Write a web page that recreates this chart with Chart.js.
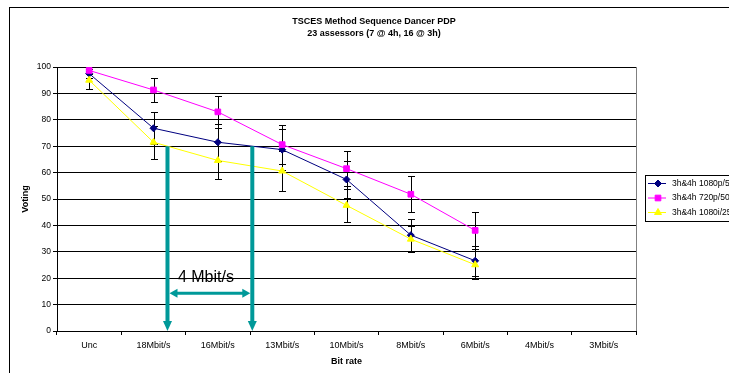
<!DOCTYPE html>
<html>
<head>
<meta charset="utf-8">
<script src="https://cdn.jsdelivr.net/npm/chart.js@4"></script>
<style>
  html, body { margin: 0; padding: 0; background: #fff; }
  canvas { display: block; }
</style>
</head>
<body>
<canvas id="chart" width="729" height="373"></canvas>
<script>
// Bit-rate steps tested
const categories = ['Unc', '18Mbit/s', '16Mbit/s', '13Mbit/s', '10Mbit/s', '8Mbit/s', '6Mbit/s', '4Mbit/s', '3Mbit/s'];
const seriesNames = ['3h&4h 1080p/50', '3h&4h 720p/50', '3h&4h 1080i/25'];

// Mean votes and 95% confidence half-widths per format
const p1080Means = [97.5, 76.8, 71.5, 68.7, 57.4, 36.3, 26.6];
const p1080Ci    = [1.8, 6.0, 7.0, 7.7, 7.0, 6.0, 5.7];
const p720Means  = [98.7, 91.3, 83.0, 70.6, 61.5, 51.8, 38.1];
const p720Ci     = [1.2, 4.7, 6.0, 7.3, 6.7, 6.8, 7.1];
const i1080Means = [95.0, 71.5, 64.6, 60.6, 47.6, 34.8, 25.1];
const i1080Ci    = [3.5, 6.2, 7.0, 7.4, 6.3, 5.0, 5.3];

const titleLines = ['TSCES Method Sequence Dancer PDP', '23 assessors (7 @ 4h, 16 @ 3h)'];
const thresholdScore = 70;       // quality level compared across formats
const savingLabel = '4 Mbit/s';  // bit-rate gap at that level

const FONT = "'Liberation Sans', Arial, sans-serif";
const TEAL = '#009999';

// Fractional category index where a series first crosses a level
function crossingIndex(values, level) {
  for (let i = 0; i < values.length - 1; i++) {
    const a = values[i], b = values[i + 1];
    if (a !== b && (a - level) * (b - level) <= 0) return i + (a - level) / (a - b);
  }
  return null;
}

const errorBars = {
  id: 'errorBars',
  beforeDatasetsDraw(chart) {
    const { ctx, scales: { x, y } } = chart;
    ctx.save();
    ctx.strokeStyle = '#000';
    ctx.lineWidth = 1;
    chart.data.datasets.forEach(ds => {
      ds.data.forEach((v, i) => {
        if (v == null) return;
        const e = ds.ci[i];
        const px = Math.round(x.getPixelForValue(i)) + 0.5;
        const top = Math.round(y.getPixelForValue(v + e)) + 0.5;
        const bot = Math.round(y.getPixelForValue(v - e)) + 0.5;
        ctx.beginPath();
        ctx.moveTo(px, top); ctx.lineTo(px, bot);
        ctx.moveTo(px - 3.5, top); ctx.lineTo(px + 3.5, top);
        ctx.moveTo(px - 3.5, bot); ctx.lineTo(px + 3.5, bot);
        ctx.stroke();
      });
    });
    ctx.restore();
  }
};

const decorations = {
  id: 'decorations',
  beforeDraw(chart) {
    const { ctx } = chart;
    ctx.save();
    ctx.fillStyle = '#fff';
    ctx.fillRect(0, 0, chart.width, chart.height);
    ctx.strokeStyle = '#000';
    ctx.lineWidth = 1;
    ctx.strokeRect(9.5, 7.5, 800, 420);
    // titles
    ctx.fillStyle = '#000';
    ctx.font = 'bold 9px ' + FONT;
    ctx.textAlign = 'center';
    ctx.textBaseline = 'middle';
    ctx.fillText(titleLines[0], 374, 22);
    ctx.fillText(titleLines[1], 374, 34);
    ctx.restore();
  },
  afterDraw(chart) {
    const { ctx, chartArea: a, scales: { x, y } } = chart;
    ctx.save();
    // right plot border
    ctx.strokeStyle = '#808080';
    ctx.lineWidth = 1;
    ctx.beginPath();
    ctx.moveTo(Math.round(a.right) + 0.5, a.top);
    ctx.lineTo(Math.round(a.right) + 0.5, a.bottom);
    ctx.stroke();

    // threshold arrows
    const xa = x.getPixelForValue(crossingIndex(i1080Means, thresholdScore));
    const xb = x.getPixelForValue(crossingIndex(p1080Means, thresholdScore));
    const yTop = y.getPixelForValue(thresholdScore);
    const yBase = y.getPixelForValue(0);
    ctx.strokeStyle = TEAL;
    ctx.fillStyle = TEAL;
    [xa, xb].forEach(px => {
      ctx.lineWidth = 4;
      ctx.beginPath();
      ctx.moveTo(px, yTop);
      ctx.lineTo(px, yBase - 9);
      ctx.stroke();
      ctx.beginPath();
      ctx.moveTo(px - 4.5, yBase - 10);
      ctx.lineTo(px + 4.5, yBase - 10);
      ctx.lineTo(px, yBase);
      ctx.closePath();
      ctx.fill();
    });
    const yh = y.getPixelForValue(14.3);
    const l = xa + 2, r = xb - 2;
    ctx.lineWidth = 3;
    ctx.beginPath();
    ctx.moveTo(l + 7, yh);
    ctx.lineTo(r - 7, yh);
    ctx.stroke();
    ctx.beginPath();
    ctx.moveTo(l, yh); ctx.lineTo(l + 8, yh - 4.5); ctx.lineTo(l + 8, yh + 4.5); ctx.closePath();
    ctx.moveTo(r, yh); ctx.lineTo(r - 8, yh - 4.5); ctx.lineTo(r - 8, yh + 4.5); ctx.closePath();
    ctx.fill();
    ctx.fillStyle = '#000';
    ctx.font = '16px ' + FONT;
    ctx.textAlign = 'center';
    ctx.textBaseline = 'middle';
    ctx.fillText(savingLabel, (xa + xb) / 2 - 4, y.getPixelForValue(20.3));

    // legend
    ctx.strokeStyle = '#000';
    ctx.lineWidth = 1;
    ctx.strokeRect(645.5, 175.5, 120, 46);
    const rows = [183.5, 198, 212.5];
    chart.data.datasets.forEach((ds, i) => {
      const ry = rows[i];
      ctx.strokeStyle = ds.borderColor;
      ctx.lineWidth = 1;
      ctx.beginPath();
      ctx.moveTo(648, ry); ctx.lineTo(666, ry);
      ctx.stroke();
      ctx.fillStyle = ds.pointBackgroundColor;
      ctx.strokeStyle = ds.pointBorderColor;
      Chart.helpers.drawPoint(ctx, {
        pointStyle: ds.pointStyle, radius: ds.pointRadius, borderWidth: 1
      }, 658, ry);
      ctx.fillStyle = '#000';
      ctx.font = '8.5px ' + FONT;
      ctx.textAlign = 'left';
      ctx.textBaseline = 'middle';
      ctx.fillText(seriesNames[i], 672, ry);
    });
    ctx.restore();
  }
};

function series(label, data, ci, color, style, radius, order) {
  return {
    label, data, ci, order,
    borderColor: color, backgroundColor: color,
    pointBackgroundColor: color, pointBorderColor: color,
    pointStyle: style, pointRadius: radius, pointBorderWidth: 1,
    borderWidth: 1, tension: 0, spanGaps: false
  };
}

new Chart(document.getElementById('chart'), {
  type: 'line',
  data: {
    labels: categories,
    datasets: [
      series(seriesNames[0], p1080Means, p1080Ci, '#000080', 'rectRot', 3.5, 3),
      series(seriesNames[1], p720Means, p720Ci, '#FF00FF', 'rect', 4, 2),
      series(seriesNames[2], i1080Means, i1080Ci, '#FFFF00', 'triangle', 4, 1)
    ]
  },
  options: {
    responsive: false,
    animation: false,
    devicePixelRatio: 1,
    layout: { padding: { left: 20, right: 93, top: 67, bottom: 6 } },
    plugins: {
      legend: { display: false },
      title: { display: false },
      tooltip: { enabled: false }
    },
    scales: {
      x: {
        type: 'category',
        offset: true,
        afterFit: s => { s.height = 36; },
        grid: { offset: true, drawOnChartArea: false, drawTicks: true, tickLength: 4, color: '#000' },
        border: { color: '#000', width: 1 },
        ticks: { color: '#000', font: { family: FONT, size: 9 }, padding: 5, maxRotation: 0, autoSkip: false },
        title: { display: true, text: 'Bit rate', color: '#000', font: { family: FONT, size: 9, weight: 'bold' }, padding: 0 }
      },
      y: {
        min: 0, max: 100,
        afterFit: s => { s.width = 37; },
        grid: { color: '#000', tickLength: 4 },
        border: { color: '#000', width: 1 },
        ticks: { stepSize: 10, color: '#000', font: { family: FONT, size: 8.5 }, padding: 2 },
        title: { display: true, text: 'Voting', color: '#000', font: { family: FONT, size: 9, weight: 'bold' }, padding: 0 }
      }
    }
  },
  plugins: [decorations, errorBars]
});
</script>
</body>
</html>
